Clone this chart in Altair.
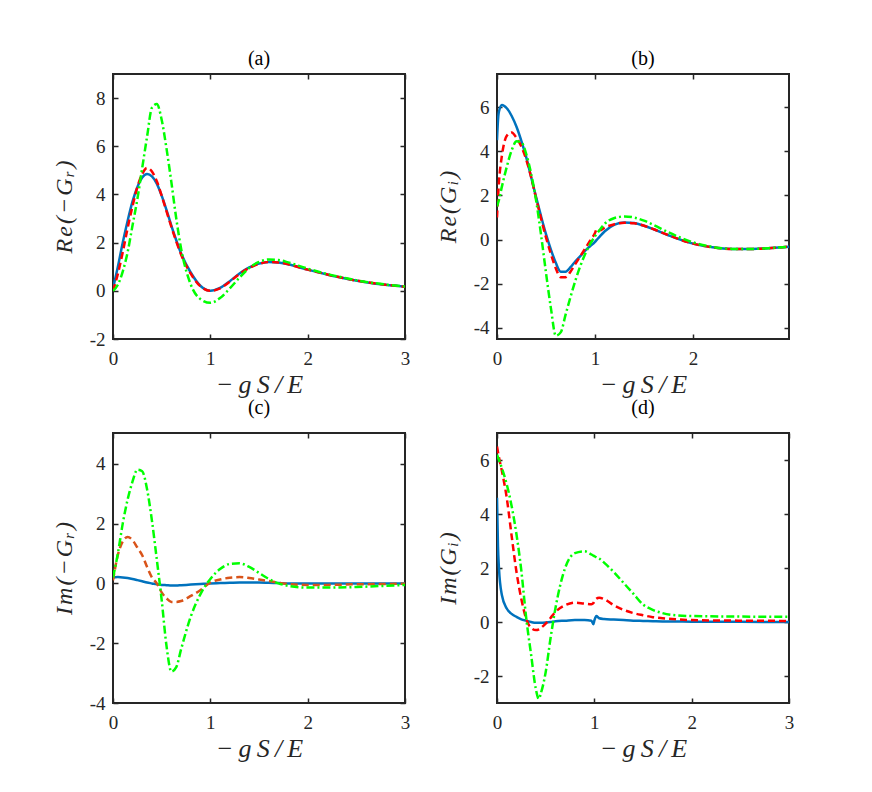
import altair as alt
import pandas as pd

# ---------------- data ----------------
# panel (a)  Re(-G_r)
xa = [0, 0.05, 0.1, 0.15, 0.2, 0.25, 0.3, 0.35, 0.4, 0.45, 0.5, 0.55, 0.6, 0.65, 0.7,
      0.8, 0.9, 1.0, 1.1, 1.2, 1.3, 1.4, 1.5, 1.6, 1.7, 1.8, 2.0, 2.2, 2.4, 2.6, 2.8, 3.0]
a_blue = [0.1, 1.0, 2.0, 2.9, 3.7, 4.3, 4.7, 4.85, 4.75, 4.45, 3.95, 3.35, 2.7, 2.1, 1.55,
          0.75, 0.2, 0.0, 0.12, 0.4, 0.72, 0.97, 1.13, 1.2, 1.18, 1.1, 0.88, 0.68, 0.5, 0.36, 0.25, 0.17]
a_red = [0.0, 0.7, 1.6, 2.6, 3.5, 4.3, 4.85, 5.1, 4.95, 4.55, 3.95, 3.3, 2.65, 2.05, 1.5,
         0.7, 0.18, 0.0, 0.1, 0.38, 0.7, 0.95, 1.12, 1.2, 1.18, 1.1, 0.88, 0.68, 0.5, 0.36, 0.25, 0.17]
a_green = [0.0, 0.25, 0.8, 1.6, 2.7, 3.8, 5.1, 6.4, 7.6, 7.75, 7.1, 5.9, 4.5, 3.0, 1.75,
           0.25, -0.35, -0.5, -0.3, 0.1, 0.55, 0.95, 1.2, 1.3, 1.28, 1.18, 0.92, 0.7, 0.52, 0.37, 0.26, 0.18]

# panel (b)  Re(G_i)
xb = [0, 0.01, 0.02, 0.05, 0.1, 0.15, 0.2, 0.25, 0.3, 0.35, 0.4, 0.45, 0.5, 0.55, 0.6, 0.65,
      0.7, 0.75, 0.8, 0.85, 0.9, 0.95, 1.0, 1.02, 1.05, 1.1, 1.2, 1.3, 1.4, 1.5, 1.6, 1.75,
      2.0, 2.2, 2.4, 2.6, 2.8, 2.98]
b_blue = [4.5, 5.4, 5.8, 6.1, 5.95, 5.6, 5.1, 4.45, 3.7, 2.8, 1.9, 1.05, 0.25, -0.45, -1.05, -1.45,
          -1.45, -1.25, -0.98, -0.75, -0.5, -0.3, -0.1, 0.0, 0.15, 0.38, 0.68, 0.78, 0.75, 0.63, 0.47, 0.2,
          -0.18, -0.35, -0.42, -0.42, -0.38, -0.32]
b_red = [1.0, 1.9, 2.6, 3.8, 4.7, 4.85, 4.6, 4.2, 3.6, 2.8, 1.85, 0.95, 0.1, -0.65, -1.3, -1.7,
         -1.7, -1.45, -1.1, -0.75, -0.4, -0.05, 0.3, 0.5, 0.42, 0.55, 0.7, 0.76, 0.74, 0.63, 0.47, 0.2,
         -0.18, -0.35, -0.42, -0.42, -0.38, -0.32]
b_green = [1.5, 1.65, 1.8, 2.4, 3.3, 4.05, 4.45, 4.4, 3.85, 2.95, 1.75, 0.2, -1.5, -3.1, -4.35, -4.2,
           -3.4, -2.6, -1.85, -1.2, -0.65, -0.2, 0.15, 0.27, 0.45, 0.72, 0.98, 1.05, 1.0, 0.86, 0.66, 0.33,
           -0.12, -0.33, -0.42, -0.42, -0.38, -0.32]

# panel (c)  Im(-G_r)
xc = [0, 0.05, 0.1, 0.15, 0.2, 0.25, 0.3, 0.35, 0.4, 0.45, 0.5, 0.55, 0.6, 0.65, 0.7, 0.8, 0.9,
      1.0, 1.1, 1.2, 1.3, 1.4, 1.5, 1.6, 1.7, 1.8, 2.0, 2.2, 2.5, 2.8, 3.0]
c_blue = [0.2, 0.21, 0.2, 0.18, 0.15, 0.11, 0.07, 0.03, 0.0, -0.03, -0.05, -0.06, -0.07, -0.07, -0.06,
          -0.04, -0.02, 0.0, 0.01, 0.02, 0.03, 0.03, 0.03, 0.02, 0.01, 0.0, 0.0, 0.0, 0.0, 0.0, 0.0]
c_red = [0.1, 0.95, 1.4, 1.55, 1.45, 1.2, 0.94, 0.55, 0.2, 0.0, -0.3, -0.5, -0.62, -0.62, -0.59,
         -0.42, -0.22, 0.03, 0.13, 0.19, 0.21, 0.18, 0.13, 0.08, 0.02, -0.02, -0.05, -0.05, -0.03, -0.02, -0.01]
c_green = [0.2, 1.0, 2.0, 2.8, 3.4, 3.8, 3.75, 3.15, 2.1, 0.8, -0.55, -2.1, -2.95, -2.8, -2.2,
           -1.1, -0.35, 0.15, 0.48, 0.65, 0.67, 0.55, 0.35, 0.15, 0.0, -0.08, -0.14, -0.14, -0.12, -0.08, -0.05]

# panel (d)  Im(G_i)
xd = [0, 0.01, 0.02, 0.05, 0.1, 0.15, 0.2, 0.25, 0.3, 0.35, 0.4, 0.43, 0.45, 0.5, 0.55, 0.6, 0.7,
      0.8, 0.9, 0.97, 0.99, 1.0, 1.02, 1.05, 1.1, 1.2, 1.3, 1.4, 1.5, 1.6, 1.7, 1.8, 2.0, 2.5, 3.0]
d_blue = [4.6, 2.8, 2.0, 1.0, 0.5, 0.3, 0.19, 0.1, 0.05, 0.0, -0.03, -0.03, -0.03, -0.02, 0.0, 0.03, 0.05,
          0.07, 0.07, 0.05, -0.08, 0.05, 0.22, 0.14, 0.11, 0.09, 0.07, 0.05, 0.04, 0.03, 0.02, 0.02, 0.01, 0.005, 0.0]
d_red = [6.5, 6.3, 6.1, 5.6, 4.6, 3.2, 1.86, 0.85, 0.12, -0.22, -0.3, -0.27, -0.22, -0.06, 0.15, 0.37, 0.62,
         0.72, 0.68, 0.66, 0.7, 0.78, 0.86, 0.9, 0.85, 0.62, 0.45, 0.33, 0.25, 0.18, 0.14, 0.11, 0.07, 0.05, 0.04]
d_green = [6.2, 6.1, 6.0, 5.7, 5.1, 4.3, 3.25, 1.9, 0.15, -1.2, -2.5, -2.85, -2.65, -1.86, -0.6, 0.5, 2.0,
           2.55, 2.62, 2.5, 2.46, 2.44, 2.4, 2.35, 2.2, 1.85, 1.45, 1.05, 0.65, 0.45, 0.33, 0.26, 0.22, 0.2, 0.19]

TS = "\u2009"  # thin space (x title, like the wide LaTeX math spacing)
HS = "\u200a"  # hair space (y titles)
x_label = TS.join(["−", "g", "S", "/", "E"])
titles = ["(a)", "(b)", "(c)", "(d)"]
y_titles = [HS.join(["R", "e", "(", "−", "G", "ᵣ", ")"]),
            HS.join(["R", "e", "(", "G", "ᵢ", ")"]),
            HS.join(["I", "m", "(", "−", "G", "ᵣ", ")"]),
            HS.join(["I", "m", "(", "G", "ᵢ", ")"])]

# ---------------- styling ----------------
BLUE = "#0072BD"
RED = "#FF0000"
ORANGE = "#D95319"
GREEN = "#00FF00"
AX = "#262626"
FONT = "Liberation Serif"
DASH = [7, 4]
DASHDOT = [8, 3, 2, 3]
W = 292


def panel(x, series, xdomain, xticks, ydomain, yticks, title, ytitle, h, toff):
    xs = alt.Scale(domain=xdomain, nice=False, zero=False)
    ys = alt.Scale(domain=ydomain, nice=False, zero=False)
    common = dict(offset=-5, tickSize=5, tickWidth=1.5, tickColor=AX, domain=False, grid=False,
                  labelFlush=False, labelOverlap=False,
                  labelFont=FONT, labelFontSize=19, labelColor=AX,
                  titleFont=FONT, titleFontStyle="italic",
                  titleFontWeight="normal", titleColor=AX)
    xaxis = alt.Axis(orient="bottom", values=xticks, title=x_label, labelPadding=10, titlePadding=3,
                     titleFontSize=26, labelExpr="'' + datum.value", **common)
    yaxis = alt.Axis(orient="left", values=yticks, title=ytitle, labelPadding=8, titlePadding=13,
                     titleFontSize=24, labelExpr="'' + datum.value", **common)
    xtop = alt.Axis(orient="top", values=xticks, labels=False, title=None, **common)
    yright = alt.Axis(orient="right", values=yticks, labels=False, title=None, **common)

    layers = []
    for y, color, dash in series:
        df = pd.DataFrame({"x": x, "y": y})
        mk = dict(color=color, strokeWidth=2.5, interpolate="monotone", clip=True)
        if dash:
            mk["strokeDash"] = dash
        layers.append(
            alt.Chart(df).mark_line(**mk).encode(
                x=alt.X("x:Q", scale=xs, axis=xaxis),
                y=alt.Y("y:Q", scale=ys, axis=yaxis),
            )
        )
    lines = alt.layer(*layers)
    ghost = alt.Chart(pd.DataFrame({"x": x, "y": series[0][0]})).mark_line(opacity=0).encode(
        x=alt.X("x:Q", scale=xs, axis=xtop),
        y=alt.Y("y:Q", scale=ys, axis=yright),
    )
    return alt.layer(lines, ghost).resolve_axis(x="independent", y="independent").properties(
        width=W, height=h,
        title=alt.TitleParams(text=title, font=FONT, fontSize=20, fontWeight="normal", color="black", offset=toff),
    )


pa = panel(xa, [(a_blue, BLUE, None), (a_red, RED, DASH), (a_green, GREEN, DASHDOT)],
           [0, 3], [0, 1, 2, 3], [-2, 9], [-2, 0, 2, 4, 6, 8], titles[0], y_titles[0], 265, 4)
pb = panel(xb, [(b_blue, BLUE, None), (b_red, RED, DASH), (b_green, GREEN, DASHDOT)],
           [0, 2.98], [0, 1, 2], [-4.5, 7.5], [-4, -2, 0, 2, 4, 6], titles[1], y_titles[1], 265, 4)
pc = panel(xc, [(c_blue, BLUE, None), (c_red, ORANGE, DASH), (c_green, GREEN, DASHDOT)],
           [0, 3], [0, 1, 2, 3], [-4, 5.03], [-4, -2, 0, 2, 4], titles[2], y_titles[2], 270, 14)
pd_ = panel(xd, [(d_blue, BLUE, None), (d_red, RED, DASH), (d_green, GREEN, DASHDOT)],
            [0, 3], [0, 1, 2, 3], [-3, 7], [-2, 0, 2, 4, 6], titles[3], y_titles[3], 270, 14)

chart = alt.concat(pa, pb, pc, pd_, columns=2, spacing={"row": -1, "column": 24}).properties(
    padding={"left": 43, "top": 40, "right": 5, "bottom": 5},
    background="white",
).configure_view(stroke=AX, strokeWidth=2)

chart.save("out.html", embed_options={"renderer": "svg", "actions": False})
